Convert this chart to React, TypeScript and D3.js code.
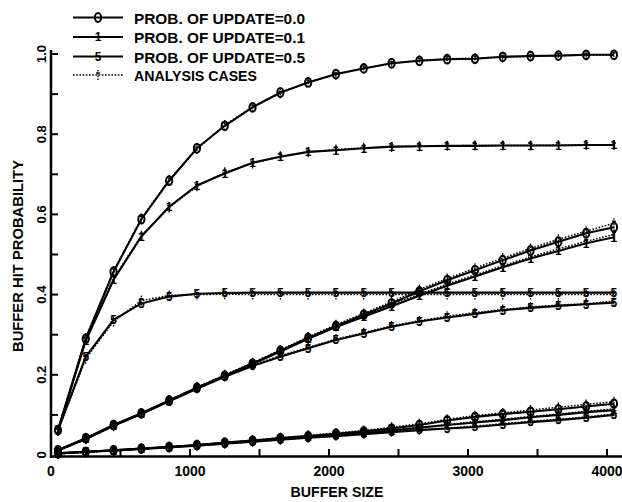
import React from 'react';
import { scaleLinear, line, range } from 'd3';

const d3 = { scaleLinear, line, range };

// buffer sizes where the curves were sampled
const bufferSizes = [50, 250, 450, 650, 850, 1050, 1250, 1450, 1650, 1850, 2050, 2250, 2450, 2650, 2850, 3050, 3250, 3450, 3650, 3850, 4050];

// simulation, three workloads (A, B, C) x update probability 0.0 / 0.1 / 0.5
const simA0 = [0.062, 0.290, 0.457, 0.588, 0.684, 0.765, 0.821, 0.867, 0.904, 0.929, 0.950, 0.964, 0.977, 0.983, 0.987, 0.988, 0.993, 0.995, 0.996, 0.998, 0.998];
const simA1 = [0.062, 0.285, 0.437, 0.545, 0.619, 0.672, 0.702, 0.729, 0.744, 0.756, 0.760, 0.765, 0.769, 0.770, 0.771, 0.771, 0.772, 0.772, 0.772, 0.773, 0.773];
const simA5 = [0.062, 0.245, 0.337, 0.378, 0.395, 0.402, 0.404, 0.405, 0.405, 0.405, 0.405, 0.405, 0.405, 0.405, 0.405, 0.405, 0.405, 0.405, 0.405, 0.405, 0.405];
const simB0 = [0.012, 0.042, 0.075, 0.104, 0.136, 0.168, 0.198, 0.228, 0.260, 0.292, 0.322, 0.350, 0.378, 0.408, 0.436, 0.461, 0.486, 0.510, 0.532, 0.553, 0.568];
const simB1 = [0.012, 0.041, 0.074, 0.103, 0.135, 0.167, 0.197, 0.227, 0.258, 0.290, 0.319, 0.345, 0.371, 0.397, 0.422, 0.445, 0.468, 0.490, 0.509, 0.528, 0.543];
const simB5 = [0.012, 0.040, 0.073, 0.102, 0.134, 0.165, 0.195, 0.222, 0.245, 0.266, 0.287, 0.303, 0.320, 0.333, 0.343, 0.352, 0.361, 0.367, 0.372, 0.376, 0.380];
const simC0 = [0.004, 0.008, 0.012, 0.016, 0.020, 0.025, 0.031, 0.036, 0.042, 0.047, 0.053, 0.059, 0.066, 0.075, 0.086, 0.095, 0.102, 0.108, 0.114, 0.121, 0.128];
const simC1 = [0.004, 0.008, 0.012, 0.016, 0.020, 0.025, 0.030, 0.035, 0.040, 0.045, 0.050, 0.055, 0.061, 0.068, 0.075, 0.081, 0.087, 0.094, 0.100, 0.107, 0.112];
const simC5 = [0.004, 0.008, 0.011, 0.015, 0.019, 0.023, 0.028, 0.033, 0.038, 0.043, 0.047, 0.052, 0.057, 0.062, 0.066, 0.070, 0.076, 0.082, 0.087, 0.093, 0.100];

// analysis (dotted)
const anaA0 = [0.060, 0.292, 0.459, 0.590, 0.686, 0.763, 0.823, 0.868, 0.902, 0.930, 0.948, 0.965, 0.976, 0.984, 0.988, 0.990, 0.992, 0.994, 0.996, 0.997, 0.998];
const anaA1 = [0.060, 0.287, 0.440, 0.547, 0.617, 0.670, 0.705, 0.727, 0.745, 0.755, 0.762, 0.766, 0.768, 0.770, 0.771, 0.772, 0.772, 0.772, 0.773, 0.773, 0.773];
const anaA5 = [0.060, 0.240, 0.333, 0.385, 0.398, 0.400, 0.401, 0.400, 0.400, 0.400, 0.400, 0.400, 0.400, 0.400, 0.400, 0.400, 0.400, 0.400, 0.400, 0.400, 0.400];
const anaB0 = [0.010, 0.040, 0.074, 0.105, 0.137, 0.169, 0.200, 0.230, 0.262, 0.294, 0.325, 0.353, 0.382, 0.413, 0.440, 0.466, 0.491, 0.515, 0.538, 0.558, 0.578];
const anaB1 = [0.010, 0.040, 0.073, 0.104, 0.136, 0.168, 0.199, 0.229, 0.260, 0.291, 0.321, 0.348, 0.375, 0.401, 0.426, 0.449, 0.472, 0.494, 0.514, 0.533, 0.550];
const anaB5 = [0.010, 0.039, 0.072, 0.103, 0.135, 0.166, 0.196, 0.224, 0.248, 0.268, 0.289, 0.305, 0.322, 0.335, 0.346, 0.355, 0.363, 0.369, 0.374, 0.377, 0.384];
const anaC0 = [0.003, 0.007, 0.011, 0.016, 0.020, 0.025, 0.031, 0.037, 0.043, 0.049, 0.055, 0.061, 0.069, 0.078, 0.089, 0.098, 0.105, 0.112, 0.119, 0.126, 0.133];
const anaC1 = [0.003, 0.007, 0.011, 0.016, 0.020, 0.025, 0.030, 0.035, 0.041, 0.046, 0.051, 0.056, 0.062, 0.069, 0.076, 0.083, 0.089, 0.096, 0.102, 0.109, 0.115];
const anaC5 = [0.003, 0.007, 0.011, 0.015, 0.019, 0.023, 0.028, 0.033, 0.038, 0.043, 0.048, 0.053, 0.058, 0.063, 0.067, 0.072, 0.078, 0.084, 0.089, 0.095, 0.102];

const legendLabels = ['PROB. OF UPDATE=0.0', 'PROB. OF UPDATE=0.1', 'PROB. OF UPDATE=0.5', 'ANALYSIS CASES'];
const xTickLabels = [0, 1000, 2000, 3000, 4000];
const yTickLabels = [0, 0.2, 0.4, 0.6, 0.8, 1.0];

const simSeries = [
    { values: simA0, mark: '0' }, { values: simA1, mark: '1' }, { values: simA5, mark: '5' },
    { values: simB0, mark: '0' }, { values: simB1, mark: '1' }, { values: simB5, mark: '5' },
    { values: simC0, mark: '0' }, { values: simC1, mark: '1' }, { values: simC5, mark: '5' },
];
const anaSeries = [anaA0, anaA1, anaA5, anaB0, anaB1, anaB5, anaC0, anaC1, anaC5];

const W = 622;
const H = 502;
const FONT = '"Liberation Sans", Arial, sans-serif';

const x = d3.scaleLinear().domain([0, 4000]).range([51, 607]);
const y = d3.scaleLinear().domain([0, 1]).range([455, 54]);

const Marker = ({ mark, cx, cy }) => {
    if (mark === '0') {
        return <ellipse cx={cx} cy={cy} rx={3.1} ry={4.4} fill="none" stroke="black" strokeWidth={2} />;
    }
    return (
        <text x={cx} y={cy} dy="0.36em" textAnchor="middle" fontSize={12} fontWeight="bold" fontFamily={FONT}>
            {mark}
        </text>
    );
};

const AnaMarker = ({ cx, cy }) => (
    <g stroke="black" strokeWidth={1.3}>
        <line x1={cx} x2={cx} y1={cy - 5} y2={cy + 5} strokeDasharray="1.6,1.2" />
        <line x1={cx - 2} x2={cx + 2} y1={cy - 2} y2={cy - 2} />
    </g>
);

const App = () => {
    const lineGen = d3.line<number>()
        .x((_, i) => x(bufferSizes[i]))
        .y(d => y(d));

    const legendRows = [17.5, 37, 56.5, 75];

    return (
        <svg width={W} height={H} style={{ position: 'absolute', left: 0, top: 0, background: 'white' }}
            fontFamily={FONT} fontWeight="bold">

            {/* axes */}
            <line x1={51} x2={51} y1={50} y2={458} stroke="black" strokeWidth={2.5} />
            <line x1={50} x2={622} y1={456.5} y2={456.5} stroke="black" strokeWidth={2.5} />

            {d3.range(1, 11).map(i => (
                <line key={`yt${i}`} x1={51} x2={58} y1={y(i / 10)} y2={y(i / 10)} stroke="black" strokeWidth={2} />
            ))}
            {d3.range(1, 9).map(i => (
                <line key={`xt${i}`} x1={x(i * 500)} x2={x(i * 500)} y1={456} y2={449} stroke="black" strokeWidth={2} />
            ))}

            {yTickLabels.map(v => (
                <text key={`yl${v}`} transform={`translate(46,${y(v)}) rotate(-90)`} textAnchor="middle" fontSize={13}>
                    {v === 0 ? '0' : v.toFixed(1)}
                </text>
            ))}
            {xTickLabels.map(v => (
                <text key={`xl${v}`} x={x(v)} y={476} textAnchor="middle" fontSize={14}>{v}</text>
            ))}

            <text x={337} y={496.5} textAnchor="middle" fontSize={14.5} textLength={93} lengthAdjust="spacingAndGlyphs">
                BUFFER SIZE
            </text>
            <text transform="translate(23,256) rotate(-90)" textAnchor="middle" fontSize={14.5} textLength={192} lengthAdjust="spacingAndGlyphs">
                BUFFER HIT PROBABILITY
            </text>

            {/* simulation curves */}
            {simSeries.map((s, k) => (
                <path key={`s${k}`} d={lineGen(s.values)} fill="none" stroke="black" strokeWidth={2.1} />
            ))}
            {/* analysis curves */}
            {anaSeries.map((vals, k) => (
                <path key={`a${k}`} d={lineGen(vals)} fill="none" stroke="black" strokeWidth={1.5} strokeDasharray="1.6,1.6" />
            ))}
            {anaSeries.map((vals, k) => vals.map((v, i) => (
                <AnaMarker key={`am${k}-${i}`} cx={x(bufferSizes[i])} cy={y(v)} />
            )))}
            {simSeries.map((s, k) => s.values.map((v, i) => (
                <Marker key={`m${k}-${i}`} mark={s.mark} cx={x(bufferSizes[i])} cy={y(v)} />
            )))}

            {/* legend */}
            {legendLabels.map((label, i) => (
                <g key={label}>
                    {i < 3 ? (
                        <>
                            <line x1={73} x2={123} y1={legendRows[i]} y2={legendRows[i]} stroke="black" strokeWidth={2} />
                            <Marker mark={['0', '1', '5'][i]} cx={98} cy={legendRows[i]} />
                        </>
                    ) : (
                        <>
                            <line x1={73} x2={123} y1={legendRows[i]} y2={legendRows[i]} stroke="black" strokeWidth={1.5} strokeDasharray="1.6,1.6" />
                            <AnaMarker cx={98} cy={legendRows[i]} />
                        </>
                    )}
                    <text x={134} y={legendRows[i] + 6} fontSize={15}
                        textLength={i < 3 ? 171 : 123} lengthAdjust="spacingAndGlyphs">
                        {label}
                    </text>
                </g>
            ))}
        </svg>
    );
};

export default App;
